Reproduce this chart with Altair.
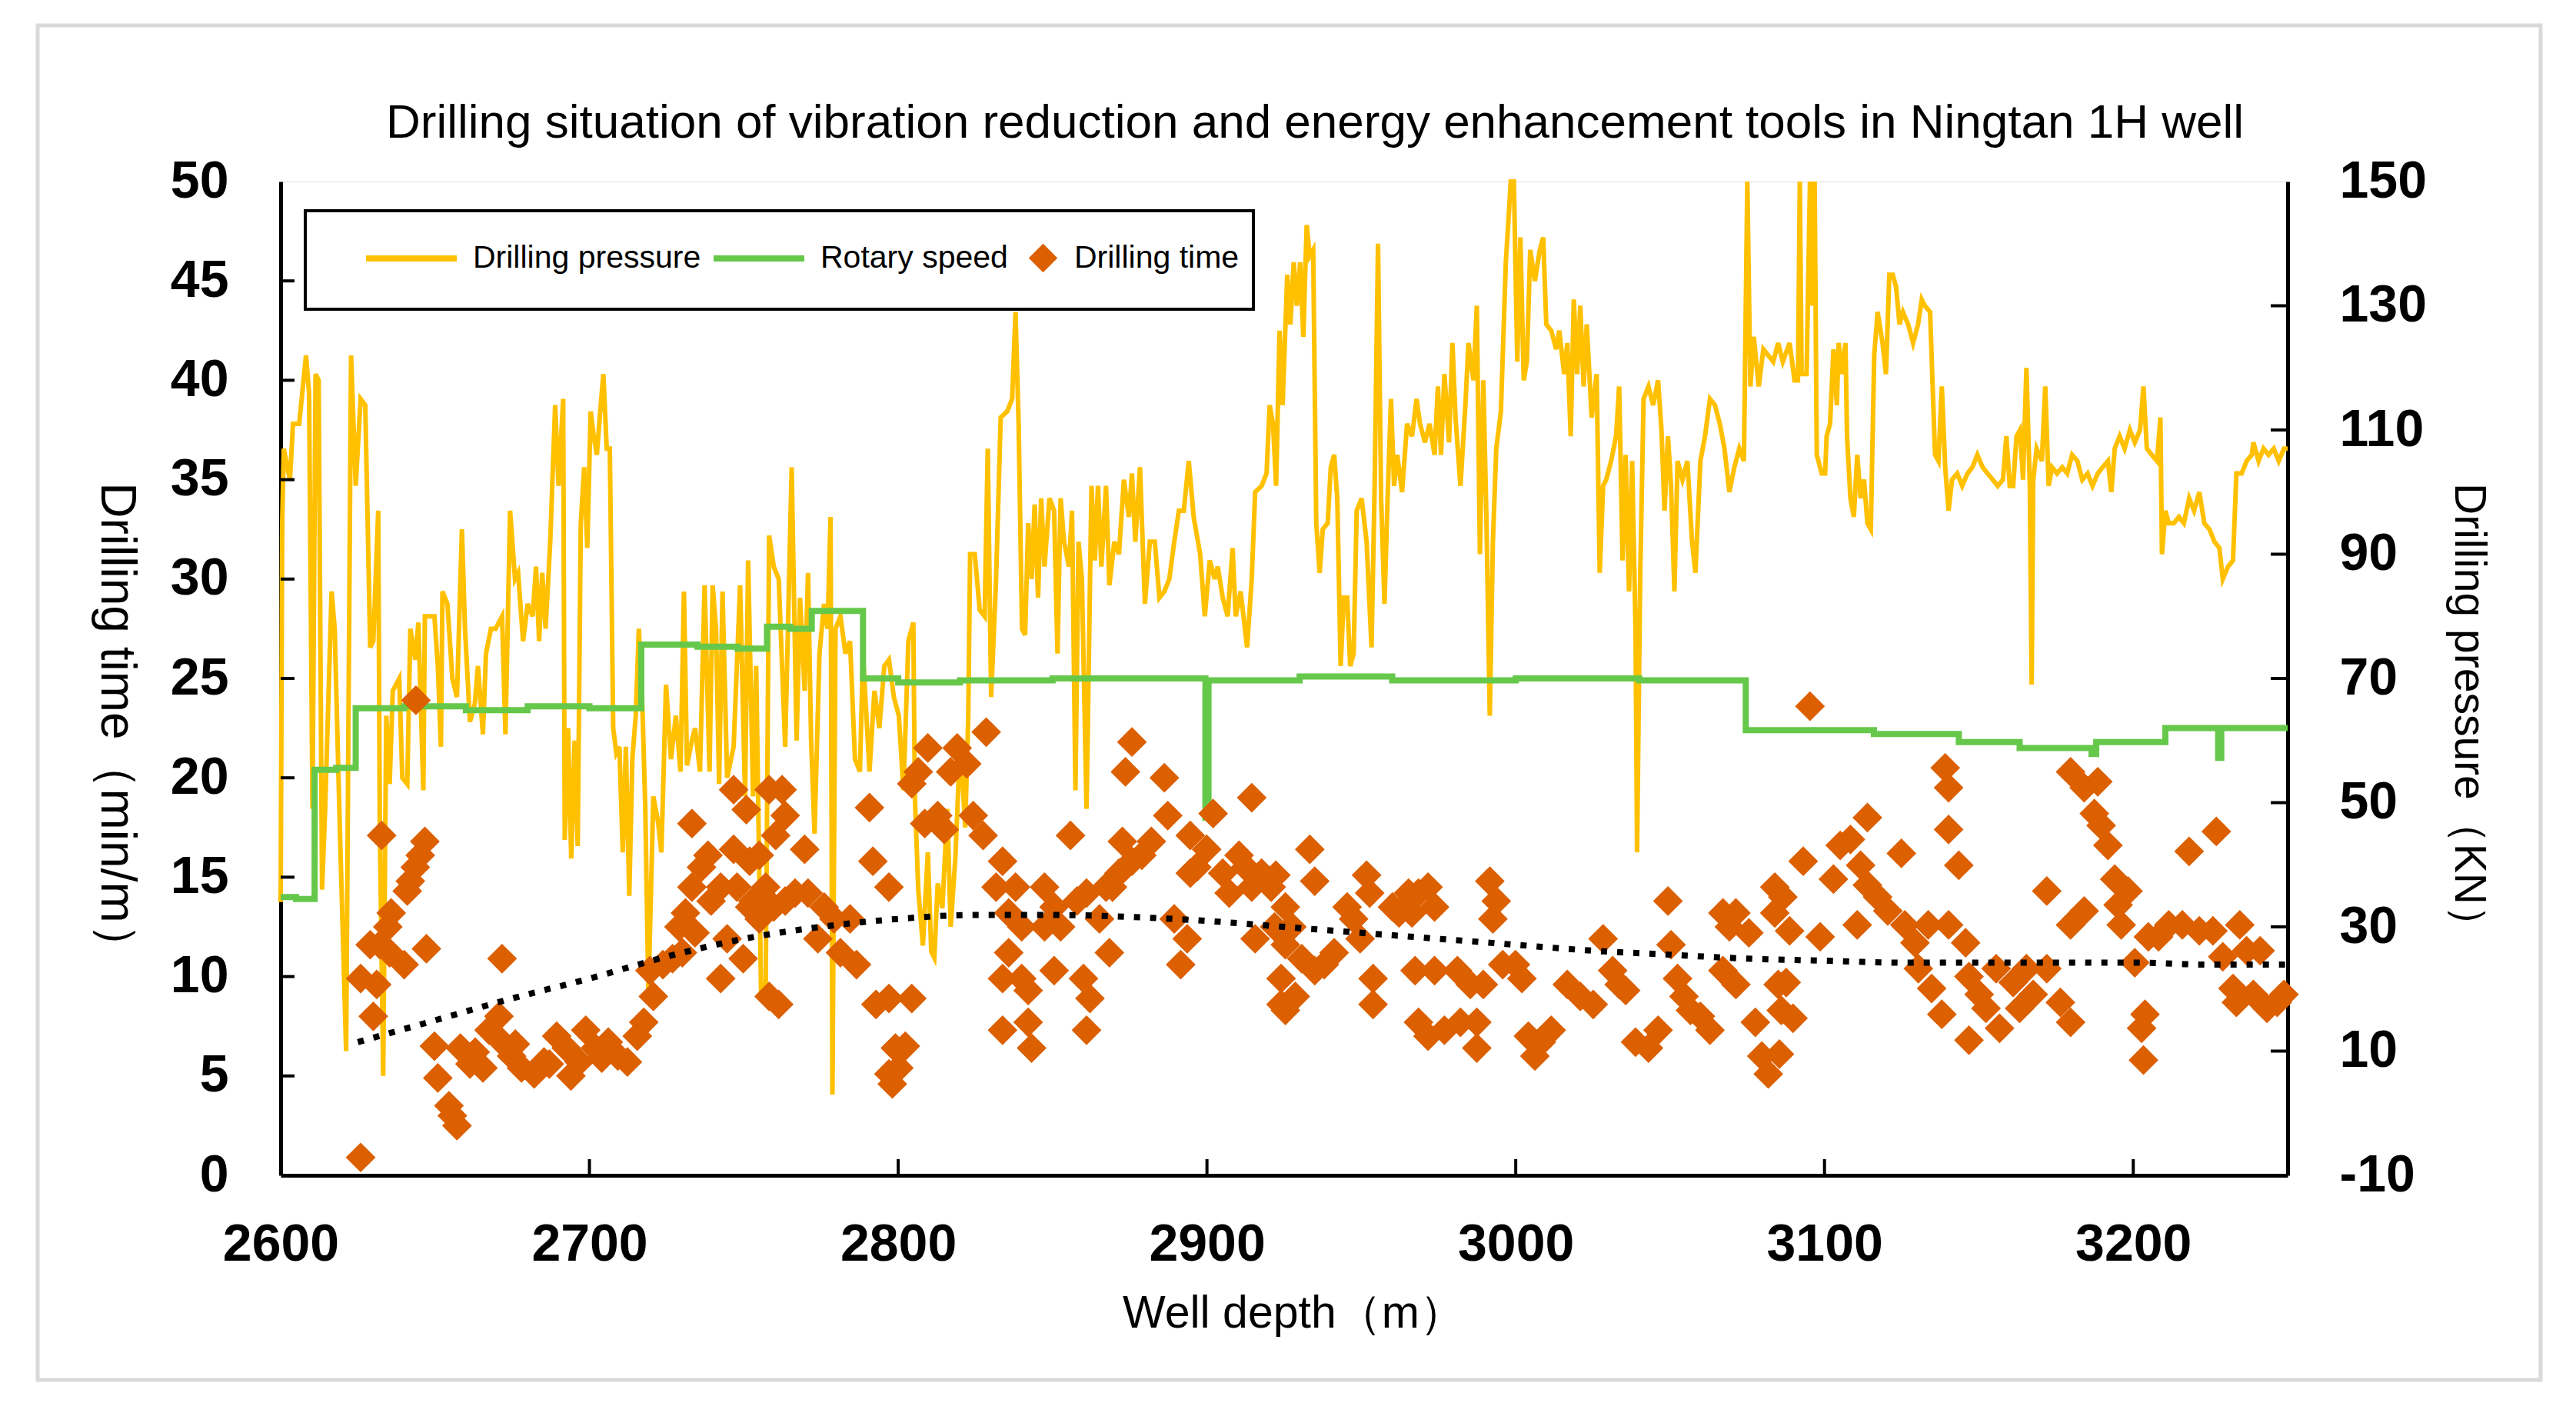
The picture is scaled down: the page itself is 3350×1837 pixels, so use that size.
import altair as alt
import pandas as pd

# ---------------- data ----------------
# Drilling pressure (KN, right axis) vs well depth (m)
p_depth = [2600.0, 2600.5, 2601.0, 2603.0, 2604.0, 2606.0, 2608.2, 2609.2, 2610.3, 2611.3, 2612.3, 2613.4, 2614.4,
           2616.5, 2617.5, 2619.1, 2621.2, 2622.8, 2624.3, 2625.9, 2627.4, 2629.0, 2630.0, 2631.6, 2632.1, 2633.2,
           2634.2, 2635.3, 2636.3, 2638.4, 2639.4, 2641.0, 2642.0, 2643.6, 2644.6, 2646.2, 2646.7, 2649.8, 2650.9,
           2651.9, 2652.4, 2654.0, 2655.6, 2657.1, 2658.7, 2659.7, 2661.3, 2662.9, 2663.9, 2665.5, 2666.5, 2668.1,
           2669.6, 2671.7, 2672.8, 2674.3, 2675.9, 2676.9, 2678.5, 2680.0, 2681.6, 2682.7, 2683.7, 2684.7, 2685.8,
           2687.3, 2688.9, 2690.0, 2691.5, 2692.0, 2693.1, 2694.1, 2695.2, 2696.2, 2697.2, 2698.3, 2699.3, 2700.4,
           2701.4, 2702.4, 2703.5, 2704.5, 2705.6, 2706.6, 2707.7, 2708.7, 2709.7, 2710.8, 2711.8, 2712.9, 2713.9,
           2715.0, 2716.0, 2717.0, 2718.1, 2719.1, 2720.7, 2722.2, 2723.3, 2724.8, 2726.4, 2728.0, 2729.5, 2730.6,
           2731.6, 2733.2, 2734.2, 2735.8, 2737.3, 2738.9, 2739.9, 2741.0, 2742.0, 2743.1, 2744.6, 2746.7, 2748.8,
           2750.4, 2751.4, 2753.0, 2754.0, 2755.6, 2757.1, 2758.2, 2759.7, 2761.3,
           2763.4, 2765.5, 2767.1, 2768.2, 2769.7, 2770.8, 2771.8, 2772.9, 2774.5, 2776.0, 2777.1, 2778.1, 2778.7,
           2779.7, 2781.3, 2782.9, 2784.4, 2786.0, 2787.6, 2788.6, 2789.7, 2790.7, 2792.3, 2793.9, 2795.5, 2797.0,
           2798.6, 2800.2, 2801.7, 2803.3, 2804.9, 2805.4, 2806.5, 2808.0, 2809.6, 2810.7, 2811.7, 2812.8, 2814.3,
           2815.9, 2817.0, 2818.5, 2820.1, 2821.7, 2822.7, 2823.3, 2824.8, 2826.4, 2828.0, 2829.0, 2830.1, 2831.7,
           2833.2, 2835.3, 2836.9, 2838.0, 2839.0, 2840.1, 2841.1, 2842.1, 2843.2, 2844.2, 2845.3, 2846.3, 2847.4,
           2849.0, 2850.5, 2851.6, 2852.6, 2853.7, 2855.3, 2856.3, 2857.4, 2858.4, 2859.5, 2861.0, 2862.6, 2863.7,
           2864.7, 2865.8, 2867.3, 2868.4, 2870.0, 2871.5, 2873.1, 2874.7, 2875.7, 2876.8, 2878.3, 2879.9, 2881.5,
           2883.1, 2884.6, 2886.2, 2887.8, 2889.4, 2890.9, 2892.5, 2894.1, 2895.7, 2897.8, 2899.3, 2900.9, 2902.5,
           2903.5, 2905.1, 2906.7, 2908.3, 2909.3, 2910.9, 2913.0, 2914.5, 2915.6, 2917.7, 2919.3, 2920.3, 2921.4,
           2922.4, 2923.5, 2924.5,
           2926.0, 2927.0, 2928.1, 2929.1, 2930.2, 2931.2, 2932.3, 2933.3, 2934.4, 2935.4, 2936.5, 2937.5, 2939.1,
           2940.1, 2941.2, 2942.2, 2943.3, 2944.3, 2945.4, 2946.4, 2947.5, 2948.5, 2950.1, 2951.7, 2953.3, 2954.3,
           2955.4, 2956.4, 2957.5, 2958.5, 2959.6, 2960.6, 2961.6, 2963.2, 2964.8, 2966.4, 2967.9, 2969.0, 2970.6,
           2972.1, 2973.7, 2974.8, 2975.8, 2976.9, 2978.4, 2979.5, 2980.5, 2982.1, 2983.7, 2984.7, 2986.3, 2987.4,
           2988.4, 2989.5, 2990.5, 2991.6, 2992.6, 2993.7, 2995.2, 2996.8, 2998.4, 2999.4, 3000.5, 3001.5, 3002.6,
           3003.6, 3004.7, 3006.2, 3007.8, 3008.9, 3009.9, 3011.5, 3013.1, 3014.1, 3015.7, 3016.7, 3017.8, 3018.8,
           3019.9, 3020.9, 3022.0, 3023.0, 3024.6, 3026.2, 3027.2, 3028.3, 3029.3, 3030.9, 3032.5, 3033.5, 3034.6,
           3035.6, 3036.7, 3037.7, 3038.8, 3039.3, 3040.3, 3041.4, 3043.0, 3044.5, 3046.1, 3047.2, 3048.2, 3049.3,
           3050.3, 3051.4, 3052.4, 3054.0, 3055.6, 3057.1, 3058.2, 3059.8, 3061.3, 3062.9, 3064.5, 3066.1, 3067.6,
           3069.2, 3070.8, 3072.4, 3073.9, 3075.0, 3076.0, 3077.1, 3078.7, 3080.2, 3081.8, 3083.4, 3085.0, 3086.5,
           3088.7, 3090.3, 3091.4, 3092.0, 3092.6, 3094.2, 3095.3, 3096.1, 3096.8, 3097.5, 3099.1, 3100.2, 3100.7,
           3101.8, 3102.9, 3104.0, 3104.6, 3105.7, 3106.8, 3107.3, 3108.4, 3109.5, 3110.6, 3111.7, 3112.8, 3113.9,
           3115.0, 3116.1, 3117.2, 3118.8, 3119.9, 3121.0, 3122.1, 3123.2, 3124.3, 3125.4, 3127.1, 3128.7, 3130.3,
           3131.5, 3132.5, 3134.2, 3135.8, 3136.9, 3138.0, 3139.1, 3140.2, 3141.3, 3143.0, 3144.6, 3146.3, 3147.9,
           3149.5, 3151.2, 3152.8, 3154.5, 3156.1, 3157.8, 3158.9, 3160.0, 3161.1, 3162.2, 3163.3, 3164.3, 3165.4,
           3166.5, 3167.1, 3167.6, 3168.7, 3170.4, 3171.5, 3172.6, 3173.7, 3175.3, 3177.0, 3178.6, 3180.2, 3181.9,
           3183.5, 3185.2, 3186.8, 3188.5, 3190.1, 3191.8, 3192.9, 3194.0, 3195.6, 3197.2, 3198.9, 3200.5, 3202.2,
           3203.3, 3204.4, 3206.0, 3207.7, 3208.8, 3209.3, 3210.4, 3211.5, 3213.1, 3214.8, 3216.4, 3218.1, 3219.7,
           3221.4, 3223.0, 3224.7, 3226.3, 3227.9, 3229.0, 3230.7, 3232.3, 3233.4, 3235.1, 3236.7, 3238.4, 3238.9,
           3240.6, 3242.2, 3243.8, 3245.5, 3247.1, 3248.8, 3250.0]
p_val = [34, 95, 107, 102, 111, 111, 122, 116, 49, 119, 118, 36, 49,
         84, 78, 47, 10, 122, 101, 115, 114, 75, 76, 97, 47, 6,
         64, 53, 68, 70, 54, 53, 78, 73, 79, 52, 80, 80, 72,
         59, 84, 82, 70, 67, 94, 78, 63, 66, 72, 61, 74, 78,
         78, 80, 61, 97, 86, 87, 76, 82, 80, 88, 76, 87, 78,
         92, 114, 101, 115, 44, 62, 41, 60, 43, 95, 104, 91, 113,
         109, 106, 113, 119, 107, 107, 62, 58, 59, 42, 59, 35, 57,
         64, 78, 68, 49, 19, 51, 47, 42, 69, 57, 64, 55, 84,
         56, 60, 62, 55, 85, 55, 85, 78, 53, 84, 54, 59, 85,
         51, 89, 51, 72, 19, 21, 93, 88, 86,
         59, 104, 60, 83, 68, 87, 60, 45, 74, 82, 78, 96, 3,
         78, 80, 74, 76, 57, 55, 74, 64, 55, 68, 62, 72, 73,
         67, 64, 52, 76, 79, 51, 36, 27, 42, 26, 25, 37, 33,
         49, 30, 41, 60, 46, 64, 90, 90, 81, 80, 107, 67, 86,
         112, 113, 115, 129, 111, 78, 77, 95, 86, 98, 83, 99, 88,
         99, 97, 74, 99, 92, 88, 97, 52, 92, 86, 49, 101, 89,
         101, 88, 101, 85, 92, 90, 102, 96, 103, 92, 104, 82, 92,
         92, 83, 84, 86, 92, 97, 97, 105, 96, 90, 80, 89, 86,
         88, 83, 80, 91, 80, 84, 75, 86, 100, 101, 103, 114, 111,
         101, 126, 114,
         135, 127, 137, 130, 137, 125, 143, 138, 139, 95, 87, 94, 95,
         104, 106, 99, 72, 83, 83, 72, 74, 97, 99, 92, 75, 101,
         140, 99, 82, 99, 115, 101, 106, 100, 111, 109, 115, 111, 108,
         111, 106, 117, 106, 119, 108, 124, 112, 101, 114, 124, 118, 130,
         90, 118, 96, 64, 92, 107, 113, 137, 150, 150, 121, 141, 118,
         121, 139, 134, 139, 141, 127, 126, 123, 126, 119, 124, 109, 131,
         119, 130, 117, 127, 112, 119, 87, 101, 102, 105, 109, 117, 89,
         106, 84, 105, 78, 42, 86, 115, 117, 114, 118, 110, 97, 109,
         101, 84, 105, 102, 105, 92, 87, 105, 109, 115, 114, 111, 107,
         100, 104, 107, 105, 150, 117, 125, 117, 123, 122, 121, 124, 121,
         124, 118, 118, 150, 119, 119, 150, 130, 150, 106, 103, 103, 109,
         111, 123, 114, 124, 119, 124, 109, 99, 96, 106, 99, 102, 95,
         94, 122, 129, 124, 119, 135, 135, 133, 127, 129, 127, 124, 127,
         131, 130, 129, 106, 105, 117, 104, 97, 102, 103, 101, 103, 104,
         106, 104, 103, 102, 101, 102, 109, 101, 101, 109, 110, 102, 120,
         101, 69, 102, 107, 105, 117, 101, 104, 103, 104, 103, 106, 105,
         102, 103, 101, 103, 104, 105, 100, 107, 109, 107, 110, 108, 110,
         117, 107, 106, 105, 112, 90, 97, 95, 95, 96, 95, 99, 97,
         100, 95, 94, 92, 91, 86, 88, 89, 103, 103, 105, 106, 108,
         105, 107, 106, 107, 105, 107, 107]

# Rotary speed (plotted on the left scale), stepped series
s_depth = [2600.0, 2605.0, 2611.0, 2618.0, 2624.3, 2640.0, 2660.0, 2680.0, 2700.0, 2716.8, 2735.0, 2748.0,
           2757.5, 2765.0, 2772.0, 2788.6, 2800.0, 2820.0, 2850.0, 2899.5, 2900.5, 2930.0, 2960.0, 3000.0,
           3040.0, 3074.5, 3116.0, 3143.5, 3163.2, 3186.5, 3188.0, 3210.4, 3227.5, 3228.5, 3250.0]
s_val = [14.0, 13.9, 20.4, 20.5, 23.5, 23.6, 23.4, 23.6, 23.5, 26.7, 26.6, 26.5,
         27.6, 27.5, 28.4, 25.0, 24.8, 24.9, 25.0, 18.0, 24.9, 25.1, 24.9, 25.0,
         24.9, 22.4, 22.2, 21.8, 21.5, 21.2, 21.8, 22.5, 21.0, 22.5, 22.5]

# Drilling time (min/m, left axis) points
t_depth = [2643.8, 2632.7, 2646.7, 2645.2, 2643.6, 2642.0, 2641.0, 2635.8, 2634.7, 2629.0, 2632.1, 2635.3,
           2640.0, 2647.2, 2625.9, 2631.1, 2630.0, 2671.7, 2649.8, 2650.9, 2655.6, 2657.1, 2654.5, 2625.9,
           2658.2, 2661.3, 2665.5, 2667.5, 2670.7, 2671.7, 2674.8, 2678.0, 2682.1, 2685.3, 2689.4, 2692.5,
           2696.7, 2698.8, 2701.9, 2706.1, 2709.2, 2712.3, 2715.5, 2717.6, 2720.7, 2719.6, 2723.8, 2726.9,
           2729.0, 2731.1, 2733.2, 2733.2, 2736.3, 2738.4, 2739.4, 2742.5, 2746.7, 2746.7, 2747.8, 2750.8,
           2751.9, 2751.9, 2755.0, 2757.1, 2758.2, 2760.3, 2744.6, 2742.5, 2749.8, 2758.2, 2734.2, 2730.1,
           2753.0, 2759.7, 2755.0, 2663.0, 2676.0, 2687.0, 2694.0, 2704.0,
           2828.5, 2809.6, 2819.1, 2806.5, 2817.0, 2822.2, 2804.4, 2790.7, 2762.4, 2763.4, 2812.8, 2808.6,
           2814.9, 2824.3, 2827.5, 2769.7, 2791.8, 2797.0, 2770.8, 2766.6, 2763.4, 2776.0, 2779.2, 2784.4,
           2774.0, 2781.3, 2786.5, 2761.3, 2792.8, 2797.0, 2804.4, 2799.1, 2802.3, 2797.0, 2800.2, 2798.1,
           2833.8, 2831.7, 2838.0, 2835.8, 2840.0, 2835.8, 2833.8, 2840.0, 2842.1, 2833.8, 2842.1, 2843.2,
           2847.4, 2850.5, 2847.4, 2852.6, 2850.5, 2855.8, 2857.9, 2861.0, 2860.0, 2862.1, 2861.0, 2865.2,
           2867.3, 2868.4, 2869.4, 2871.5, 2872.6, 2873.6, 2875.7, 2875.7, 2878.9, 2882.0, 2886.2, 2887.3,
           2889.4, 2893.6, 2891.5, 2894.6, 2896.7, 2899.9, 2902.0, 2905.1, 2907.2, 2910.4, 2912.5, 2914.5,
           2914.5, 2917.7, 2920.8, 2915.6, 2921.9, 2924.0, 2924.0, 2894.6,
           2933.3, 2934.9, 2922.3, 2925.4, 2927.5, 2925.4, 2930.7, 2928.6, 2925.4, 2934.9, 2938.0, 2941.2,
           2945.4,
           2947.5, 2951.7, 2952.7, 2949.6, 2953.8, 2953.8, 2960.1, 2962.2, 2965.3, 2968.5, 2971.6, 2973.7,
           2966.4, 2967.4, 2973.7, 2981.1, 2985.3, 2989.5, 2968.5, 2971.6, 2976.9, 2982.1, 2987.4, 2987.4,
           2991.6, 2993.7, 2992.6, 2995.8, 2999.9, 3002.0, 3004.1, 3008.3, 3011.5, 3006.2, 3016.7, 3020.9,
           3025.1, 3028.3, 3031.4, 3033.5, 3035.6, 3038.8, 3043.0, 3046.1, 3049.3, 3050.3, 3052.4, 3054.5,
           3056.6, 3059.8, 3062.9, 3067.1, 3069.2, 3071.3, 3075.5, 3067.1, 3071.3, 3077.6, 3079.7, 3081.8,
           3083.9, 3083.9, 3085.0, 3086.0,
           3095.3, 3139.1, 3140.2, 3140.2, 3143.5, 3113.9, 3108.4, 3105.1, 3124.9, 3093.1, 3111.7, 3102.9,
           3113.9, 3117.2, 3120.5, 3086.5, 3098.6, 3110.6, 3126.0, 3129.3, 3133.6, 3140.2, 3145.7, 3088.7,
           3087.6, 3089.8, 3085.4, 3130.4, 3134.7, 3138.0, 3146.8, 3150.1, 3155.6, 3161.1, 3165.4, 3172.0,
           3152.3, 3156.7, 3146.8, 3163.2, 3167.6, 3176.4, 3179.7, 3172.0, 3179.7, 3184.1, 3179.7, 3184.1,
           3188.5, 3187.4, 3189.6, 3191.8, 3194.0, 3198.3, 3195.1, 3196.1, 3200.5, 3203.8, 3203.3, 3202.7,
           3208.2, 3211.5, 3215.9, 3221.4, 3218.1, 3226.9, 3225.8, 3229.0, 3232.3, 3236.7, 3238.9, 3241.1,
           3243.3, 3246.6, 3248.8, 3233.4, 3204.9, 3234.5]
t_val = [23.9, 17.1, 16.8, 16.1, 15.5, 14.8, 14.3, 13.2, 12.5, 11.6, 11.6, 11.2,
         10.6, 11.4, 9.9, 9.6, 8.0, 10.9, 6.5, 4.9, 3.0, 2.5, 3.5, 0.9,
         6.4, 5.6, 5.4, 7.3, 8.0, 6.7, 6.0, 5.4, 5.1, 5.7, 7.0, 6.4,
         5.7, 7.3, 6.4, 6.7, 6.0, 5.7, 7.0, 7.7, 9.0, 10.3, 10.6, 10.9,
         12.5, 13.2, 14.5, 17.7, 15.5, 16.1, 13.8, 14.5, 16.4, 19.4, 14.5, 18.4,
         15.8, 13.5, 16.1, 14.5, 19.4, 17.1, 11.9, 9.9, 10.9, 9.0, 12.2, 11.2,
         13.8, 13.5, 12.9, 6.2, 6.6, 5.6, 5.0, 5.9,
         22.3, 21.5, 21.5, 20.3, 20.3, 20.7, 19.7, 18.5, 19.4, 18.1, 18.1, 17.7,
         17.4, 18.1, 17.1, 16.4, 15.8, 14.5, 14.2, 14.2, 13.8, 13.5, 12.9, 12.9,
         11.9, 11.2, 10.6, 8.6, 8.6, 8.9, 8.9, 6.4, 6.5, 5.1, 5.4, 4.6,
         15.8, 14.5, 14.5, 13.2, 12.5, 11.2, 9.9, 9.9, 9.3, 7.3, 7.7, 6.4,
         14.5, 13.5, 12.5, 12.5, 10.3, 17.1, 13.8, 14.2, 9.9, 8.9, 7.3, 12.9,
         14.5, 11.2, 14.5, 15.2, 16.8, 20.3, 21.8, 15.8, 16.1, 16.8, 20.0, 18.1,
         12.9, 11.9, 10.6, 17.1, 15.5, 16.4, 18.2, 15.2, 14.2, 16.1, 15.5, 19.0,
         14.5, 15.2, 14.5, 11.9, 12.5, 9.9, 8.6, 15.2,
         16.4, 14.8, 15.1, 13.5, 12.5, 11.6, 10.9, 9.0, 8.3, 10.3, 10.6, 11.2,
         13.5,
         12.9, 15.1, 14.2, 11.9, 9.9, 8.6, 13.5, 13.2, 14.2, 14.2, 14.5, 13.5,
         13.2, 10.3, 10.3, 10.3, 9.6, 9.6, 7.7, 7.0, 7.3, 7.7, 7.7, 6.4,
         14.8, 13.8, 12.9, 10.6, 10.6, 9.9, 7.0, 6.7, 7.3, 6.0, 9.6, 9.0,
         8.6, 11.9, 10.3, 9.6, 9.3, 6.7, 6.4, 7.3, 13.8, 11.6, 9.9, 9.0,
         8.3, 8.0, 7.3, 13.2, 12.5, 13.2, 12.2, 10.3, 9.6, 7.7, 6.0, 5.1,
         14.5, 13.2, 9.6, 8.3,
         23.6, 20.5, 19.5, 17.4, 15.6, 18.0, 16.9, 16.6, 16.2, 15.8, 15.6, 14.9,
         14.6, 14.0, 13.3, 14.0, 12.0, 12.6, 12.6, 11.7, 12.6, 12.6, 11.7, 12.3,
         9.7, 7.9, 6.1, 10.4, 9.4, 8.1, 10.0, 9.1, 10.4, 9.7, 10.4, 10.4,
         8.4, 7.4, 6.8, 8.4, 9.1, 8.7, 7.7, 14.3, 12.6, 13.3, 20.3, 19.5,
         19.8, 18.2, 17.6, 16.6, 14.9, 14.3, 13.6, 12.6, 10.7, 8.1, 5.8, 7.4,
         12.0, 12.6, 12.6, 12.3, 16.3, 17.3, 12.3, 11.0, 9.4, 11.3, 9.1, 11.3,
         8.4, 8.7, 9.1, 8.7, 12.0, 12.6]

# Trend line of drilling time (dotted)
tr_depth = [2625, 2650, 2675, 2700, 2725, 2750, 2775, 2800, 2825, 2850, 2875, 2900, 2925, 2950,
            2975, 3000, 3025, 3050, 3075, 3100, 3125, 3150, 3175, 3200, 3225, 3250]
tr_val = [6.7, 7.8, 8.9, 9.9, 11.0, 11.9, 12.5, 12.9, 13.1, 13.1, 13.0, 12.8, 12.5, 12.2,
          11.9, 11.6, 11.3, 11.1, 10.9, 10.8, 10.7, 10.7, 10.7, 10.7, 10.6, 10.6]

x_ticks = [2600, 2700, 2800, 2900, 3000, 3100, 3200]
left_ticks = [0, 5, 10, 15, 20, 25, 30, 35, 40, 45, 50]
right_ticks = [-10, 10, 30, 50, 70, 90, 110, 130, 150]

series_names = ["Drilling pressure", "Rotary speed"]
point_name = "Drilling time"

# ---------------- styling ----------------
FONT = "Liberation Sans"
C_P = "#FFC000"
C_S = "#66C84A"
C_T = "#DC5F00"
W, H = 2610, 1292

pressure_df = pd.DataFrame({"depth": p_depth, "value": p_val, "series": series_names[0]})
speed_df = pd.DataFrame({"depth": s_depth, "value": s_val, "series": series_names[1]})
time_df = pd.DataFrame({"depth": t_depth, "value": t_val, "kind": point_name})
trend_df = pd.DataFrame({"depth": tr_depth, "value": tr_val})
xt_df = pd.DataFrame({"depth": x_ticks[1:]})
lt_df = pd.DataFrame({"v": left_ticks[1:-1]})
rt_df = pd.DataFrame({"v": right_ticks[1:-1]})
one_df = pd.DataFrame({"a": [0]})

x_scale = alt.Scale(domain=[2600, 3250], nice=False, zero=False)
yl_scale = alt.Scale(domain=[0, 50], nice=False, zero=False)
yr_scale = alt.Scale(domain=[-10, 150], nice=False, zero=False)

# the same x axis definition is given to every layer that uses the shared x scale
x_axis = alt.Axis(orient="bottom", values=x_ticks, ticks=False, grid=False, labelPadding=56,
                  labelFont=FONT, labelFontSize=68, labelFontWeight="bold", labelColor="black",
                  labelFlush=False, domainColor="black", domainWidth=5,
                  labelExpr="'' + datum.value", title="Well depth（m）",
                  titleFont=FONT, titleFontSize=59, titleFontWeight="normal", titleColor="black",
                  titleX=1317, titleY=179, titleAlign="center", titleBaseline="middle")
left_axis = alt.Axis(orient="left", values=left_ticks, ticks=False, grid=False, labelPadding=68,
                     labelFont=FONT, labelFontSize=68, labelFontWeight="bold", labelColor="black",
                     labelFlush=False, domainColor="black", domainWidth=5,
                     title="Drilling time（min/m）", titleFont=FONT, titleFontSize=64,
                     titleFontWeight="normal", titleColor="black", titleAngle=90, titleX=-215,
                     titleY=709, titleAlign="center", titleBaseline="middle")
right_axis = alt.Axis(orient="right", values=right_ticks, ticks=False, grid=False, labelPadding=67,
                      labelFont=FONT, labelFontSize=68, labelFontWeight="bold", labelColor="black",
                      labelFlush=False, domainColor="black", domainWidth=5,
                      labelExpr="'' + datum.value",
                      title="Drilling pressure（KN）", titleFont=FONT, titleFontSize=57,
                      titleFontWeight="normal", titleColor="black", titleAngle=90, titleX=234,
                      titleY=694, titleAlign="center", titleBaseline="middle")

line_legend = alt.Legend(orient="none", legendX=107, legendY=37, direction="horizontal", title=None,
                         symbolType="stroke", symbolSize=13924, symbolStrokeWidth=8, labelFont=FONT,
                         labelFontSize=41, labelColor="black", labelOffset=17, columnPadding=0,
                         padding=0, labelLimit=2000)
point_legend = alt.Legend(orient="none", legendX=971, legendY=79, direction="horizontal", title=None,
                          symbolType="diamond", symbolSize=1400, symbolFillColor=C_T,
                          symbolStrokeWidth=0, symbolOpacity=1, labelFont=FONT, labelFontSize=41,
                          labelColor="black", labelOffset=20, padding=0, labelLimit=2000)

color_enc = alt.Color("series:N", scale=alt.Scale(domain=series_names, range=[C_P, C_S]),
                      legend=line_legend)


def xenc():
    return alt.X("depth:Q", scale=x_scale, axis=x_axis)


pressure = alt.Chart(pressure_df).mark_line(strokeWidth=6).encode(
    x=xenc(), y=alt.Y("value:Q", scale=yr_scale, axis=right_axis),
    color=color_enc, order="depth:Q")

speed = alt.Chart(speed_df).mark_line(strokeWidth=8, interpolate="step-after").encode(
    x=xenc(), y=alt.Y("value:Q", scale=yl_scale, axis=None),
    color=color_enc, order="depth:Q")

points = alt.Chart(time_df).mark_point(filled=True, opacity=1, size=1500, color=C_T).encode(
    x=xenc(), y=alt.Y("value:Q", scale=yl_scale, axis=left_axis),
    shape=alt.Shape("kind:N", scale=alt.Scale(domain=[point_name], range=["diamond"]),
                    legend=point_legend))

trend = alt.Chart(trend_df).mark_line(color="black", strokeWidth=8, strokeDash=[8, 13],
                                      interpolate="monotone").encode(
    x=xenc(), y=alt.Y("value:Q", scale=yl_scale, axis=None))

legend_box = alt.Chart(one_df).mark_rect(fill="white", stroke="black", strokeWidth=4).encode(
    x=alt.value(32), x2=alt.value(1265), y=alt.value(38), y2=alt.value(166))

# inward tick marks drawn as rules on the chart's own scales
xticks = alt.Chart(xt_df).mark_rule(color="black", strokeWidth=4).encode(
    x=xenc(), y=alt.value(H), y2=alt.value(H - 21))
lticks = alt.Chart(lt_df).mark_rule(color="black", strokeWidth=4).encode(
    y=alt.Y("v:Q", scale=yl_scale, axis=None), x=alt.value(0), x2=alt.value(18))
rticks = alt.Chart(rt_df).mark_rule(color="black", strokeWidth=4).encode(
    y=alt.Y("v:Q", scale=yr_scale, axis=None), x=alt.value(W), x2=alt.value(W - 22))

frame = alt.Chart(one_df).mark_rect(fill="transparent", stroke="#D9D9D9", strokeWidth=5).encode(
    x=alt.value(-316), x2=alt.value(2939), y=alt.value(-203), y2=alt.value(1558))

chart = alt.layer(pressure, speed, points, trend, legend_box, xticks, lticks, rticks, frame).resolve_scale(
    y="independent"
).properties(
    width=W, height=H,
    autosize=alt.AutoSizeParams(type="none"),
    padding={"left": 357, "top": 228, "right": 340, "bottom": 280},
    title=alt.TitleParams(
        "Drilling situation of vibration reduction and energy enhancement tools in Ningtan 1H well",
        font=FONT, fontSize=62, fontWeight="normal", color="black", anchor="middle",
        frame="group", dx=40, dy=232, offset=22, baseline="alphabetic"),
).configure_view(stroke="black", strokeWidth=4).configure(background="white")

chart.save("out.html", embed_options={"renderer": "svg", "actions": False})
